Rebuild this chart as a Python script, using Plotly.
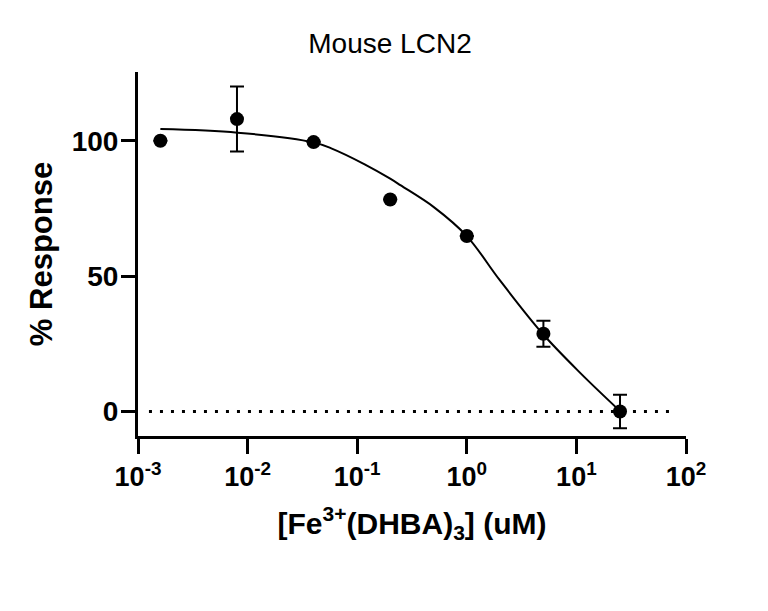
import plotly.graph_objects as go

# measured points (concentration in uM, % response, error)
conc = [0.0016, 0.008, 0.04, 0.2, 1.0, 5.0, 25.0]
response = [100.0, 108.0, 99.5, 78.3, 64.8, 28.7, 0.0]
resp_err = [None, 12.0, None, None, None, 4.8, 6.2]

# fitted curve
curve_x = [0.0016, 0.0081, 0.04, 0.058, 0.117, 0.2, 0.25, 0.5, 1.0, 2.0, 4.9, 11.0, 24.5]
curve_y = [104.3, 103.0, 99.4, 97.2, 91.3, 86.0, 83.5, 75.5, 64.8, 48.5, 28.8, 14.0, 0.5]

x_tickvals = [0.001, 0.01, 0.1, 1, 10, 100]
x_ticktext = ["10<sup>-3</sup>", "10<sup>-2</sup>", "10<sup>-1</sup>",
              "10<sup>0</sup>", "10<sup>1</sup>", "10<sup>2</sup>"]
y_tickvals = [0, 50, 100]

FONT = "Liberation Sans, Arial, sans-serif"

fig = go.Figure()

fig.add_trace(go.Scatter(x=curve_x, y=curve_y, mode='lines',
                         line=dict(color='black', width=2, shape='spline', smoothing=1.0),
                         hoverinfo='skip', showlegend=False))

fig.add_trace(go.Scatter(x=conc, y=response, mode='markers',
                         marker=dict(color='black', size=14, symbol='circle'),
                         error_y=dict(type='data', array=resp_err, visible=True,
                                      color='black', thickness=2, width=7),
                         showlegend=False))

# dotted reference line at y = 0
fig.add_shape(type='line', xref='paper', yref='y', x0=0.02, x1=0.978, y0=0, y1=0,
              line=dict(color='black', width=3, dash='3px,8px'), layer='below')

fig.update_xaxes(type='log', range=[-3, 2], tickvals=x_tickvals, ticktext=x_ticktext,
                 showline=True, linecolor='black', linewidth=3,
                 ticks='outside', ticklen=15, tickwidth=3, tickcolor='black',
                 ticklabelstandoff=0,
                 tickfont=dict(family=FONT, size=27, color='black', weight='bold'),
                 showgrid=False, zeroline=False,
                 title=dict(text="[Fe<sup>3+</sup>(DHBA)<sub>3</sub>] (uM)",
                            font=dict(family=FONT, size=30, color='black', weight='bold'),
                            standoff=22))

fig.update_yaxes(range=[-9.05, 125.4], tickvals=y_tickvals,
                 showline=True, linecolor='black', linewidth=3,
                 ticks='outside', ticklen=14, tickwidth=3, tickcolor='black',
                 ticklabelstandoff=-3,
                 tickfont=dict(family=FONT, size=28, color='black', weight='bold'),
                 showgrid=False, zeroline=False,
                 title=dict(text="% Response",
                            font=dict(family=FONT, size=31, color='black', weight='bold'),
                            standoff=10))

fig.update_layout(
    width=760, height=603,
    margin=dict(l=130, r=82, t=64, b=175),
    paper_bgcolor='white', plot_bgcolor='white',
    title=dict(text="Mouse LCN2", x=382 / 760, xanchor='center',
               y=1 - 35 / 603, yanchor='middle', yref='container',
               font=dict(family=FONT, size=28, color='black')),
)

fig.write_html("out.html")
